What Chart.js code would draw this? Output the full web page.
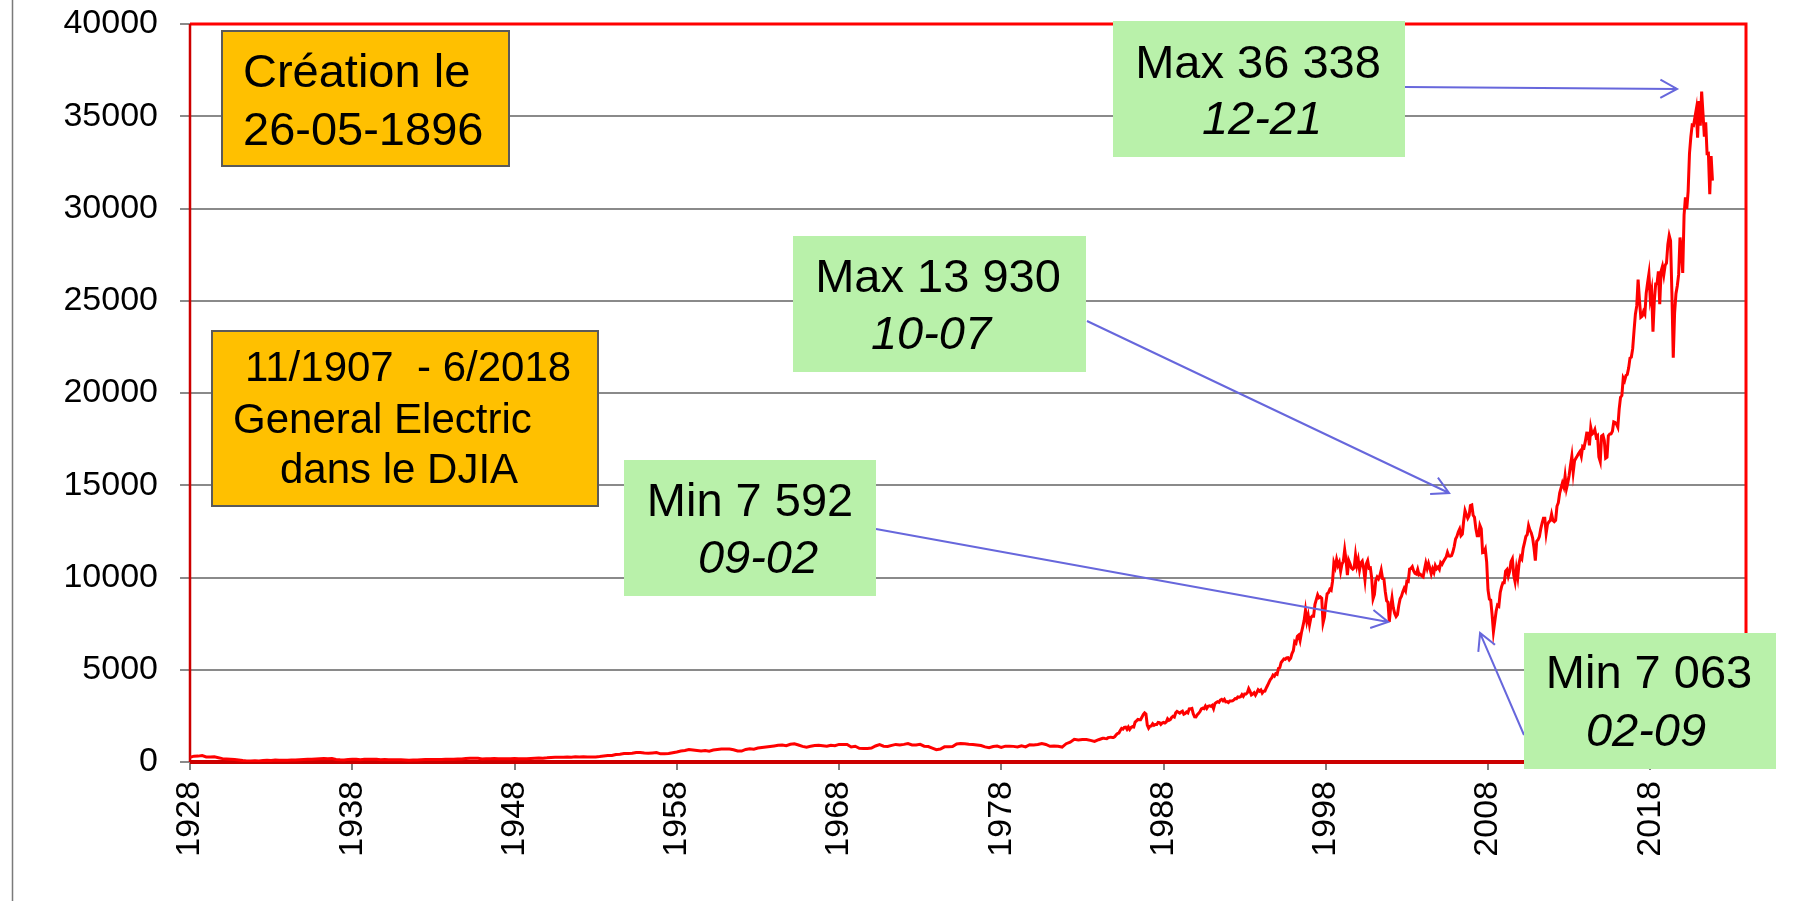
<!DOCTYPE html>
<html lang="fr">
<head>
<meta charset="utf-8">
<title>DJIA 1928 - 2022</title>
<script src="https://cdn.jsdelivr.net/npm/chart.js@4.4.1/dist/chart.umd.min.js"></script>
<style>
  html, body { margin: 0; padding: 0; background: #fff; overflow: hidden; }
  canvas { display: block; }
</style>
</head>
<body>
<canvas id="djiaChart" width="1812" height="901"></canvas>
<script>
// DJIA closes (the index has 30 stocks from Oct 1928)
// quarterly: Oct 1928, then Jan / Apr / Jul / Oct
const quarterly1928to1956 = [
  257,
  317, 319, 348, 273,   267, 279, 234, 183,   167, 151, 136, 105,   76, 56, 54, 61,
  60, 77, 90, 88,       108, 101, 89, 93,     102, 110, 126, 140,   149, 146, 163, 177,
  184, 174, 185, 138,   121, 111, 142, 151,   143, 128, 143, 151,   145, 149, 127, 134,
  125, 116, 128, 117,   109, 96, 106, 114,    126, 135, 138, 138,   138, 137, 146, 146,
  153, 165, 163, 186,   205, 206, 201, 169,   180, 170, 186, 181,   175, 180, 182, 188,
  179, 174, 175, 189,   201, 214, 209, 225,   249, 259, 257, 262,   271, 257, 280, 269,
  290, 275, 275, 276,   293, 319, 348, 352,   409, 425, 466, 455,   471, 516, 518, 486
];
const quarterly1957to1984 = [
  480, 494, 509, 441,   450, 456, 503, 543,   593, 624, 675, 647,   623, 601, 617, 580,
  648, 679, 705, 704,   700, 665, 597, 590,   683, 718, 695, 755,   785, 811, 841, 873,
  903, 922, 882, 961,   984, 921, 847, 807,   850, 897, 904, 880,   856, 912, 883, 952,
  946, 950, 816, 856,   744, 736, 734, 756,   869, 941, 858, 839,   902, 954, 925, 956,
  999, 922, 926, 957,   856, 837, 757, 666,   704, 821, 832, 836,   975, 997, 985, 965,
  954, 927, 891, 818,   770, 837, 862, 793,   860, 855, 847, 816,   876, 817, 935, 925,
  947, 998, 952, 853,   871, 848, 809, 992,   1076, 1226, 1199, 1225, 1221, 1171, 1115, 1207
];

// monthly closes, January to December
const monthly1985to1994 = [
  1287, 1284, 1267, 1258, 1315, 1335, 1347, 1334, 1329, 1374, 1472, 1547,
  1571, 1709, 1819, 1784, 1877, 1893, 1775, 1898, 1768, 1878, 1914, 1896,
  2158, 2224, 2305, 2286, 2292, 2419, 2572, 2663, 2596, 1994, 1834, 1939,
  1958, 2072, 1988, 2032, 2031, 2142, 2129, 2032, 2113, 2149, 2115, 2169,
  2342, 2258, 2294, 2419, 2480, 2440, 2661, 2737, 2693, 2645, 2706, 2753,
  2591, 2627, 2707, 2657, 2877, 2881, 2905, 2614, 2452, 2442, 2560, 2634,
  2736, 2882, 2914, 2888, 3028, 2907, 3025, 3044, 3017, 3069, 2895, 3169,
  3223, 3268, 3235, 3359, 3397, 3319, 3394, 3257, 3272, 3226, 3305, 3301,
  3310, 3371, 3435, 3428, 3527, 3516, 3539, 3651, 3555, 3681, 3684, 3754,
  3978, 3832, 3636, 3682, 3758, 3625, 3765, 3913, 3843, 3908, 3739, 3834
];
const monthly1995to2004 = [
  3844, 4011, 4158, 4321, 4465, 4556, 4708, 4648, 4789, 4755, 5074, 5117,
  5395, 5486, 5587, 5569, 5643, 5655, 5529, 5616, 5882, 6029, 6522, 6448,
  6813, 6878, 6583, 7009, 7331, 7673, 8223, 7622, 7945, 7442, 7823, 7908,
  7907, 8546, 8800, 9063, 8900, 8952, 8883, 7539, 7843, 8592, 9117, 9181,
  9359, 9307, 9786, 10789, 10560, 10971, 10655, 10829, 10337, 10730, 10878, 11497,
  10941, 10128, 10922, 10734, 10522, 10448, 10522, 11215, 10651, 10971, 10414, 10787,
  10887, 10495, 9879, 10735, 10912, 10502, 10523, 9950, 8848, 9075, 9852, 10022,
  9920, 10106, 10404, 9946, 9925, 9243, 8737, 8664, 7592, 8397, 8896, 8342,
  8054, 7891, 7992, 8480, 8850, 8985, 9234, 9416, 9275, 9801, 9782, 10454,
  10488, 10584, 10358, 10226, 10188, 10435, 10140, 10174, 10080, 10027, 10428, 10783
];
const monthly2005to2014 = [
  10490, 10766, 10504, 10193, 10467, 10275, 10641, 10482, 10569, 10440, 10806, 10718,
  10865, 10993, 11109, 11367, 11168, 11150, 11186, 11381, 11679, 12081, 12222, 12463,
  12622, 12269, 12354, 13063, 13628, 13409, 13212, 13358, 13896, 13930, 13372, 13265,
  12650, 12266, 12263, 12820, 12638, 11350, 11378, 11544, 10851, 9325, 8829, 8776,
  8001, 7063, 7609, 8168, 8500, 8447, 9172, 9496, 9712, 9713, 10345, 10428,
  10067, 10325, 10857, 11009, 10137, 9774, 10466, 10015, 10788, 11118, 11006, 11578,
  11892, 12226, 12320, 12811, 12570, 12414, 12143, 11614, 10913, 11955, 12046, 12218,
  12633, 12952, 13212, 13214, 12393, 12880, 13009, 13091, 13437, 13096, 13026, 13104,
  13861, 14054, 14579, 14840, 15116, 14910, 15500, 14810, 15130, 15546, 16086, 16577,
  15699, 16322, 16458, 16581, 16717, 16827, 16563, 17098, 17043, 17391, 17828, 17823
];
const monthly2015to2022 = [
  17165, 18133, 17776, 17841, 18011, 17620, 17690, 16528, 16285, 17664, 17720, 17425,
  16466, 16517, 17685, 17774, 17787, 17930, 18432, 18401, 18308, 18142, 19124, 19763,
  19864, 20812, 20663, 20941, 21009, 21350, 21891, 21948, 22405, 23377, 24272, 24719,
  26149, 25029, 24103, 24163, 24416, 24271, 25415, 25965, 26458, 25116, 25538, 23327,
  25000, 25916, 25929, 26593, 24815, 26600, 26864, 26403, 26917, 27046, 28051, 28538,
  28256, 25409, 21917, 24346, 25383, 25813, 26428, 28430, 27782, 26502, 29639, 30606,
  29983, 30932, 32982, 33875, 34529, 34503, 34935, 35361, 33844, 35820, 34484, 36338,
  35132, 33893, 34678, 32977, 32990, 30775, 32845, 31510
];

const xTickLabels = ['1928', '1938', '1948', '1958', '1968', '1978', '1988', '1998', '2008', '2018'];
const yTickLabels = ['0', '5000', '10000', '15000', '20000', '25000', '30000', '35000', '40000'];

// series pieces: [first date as decimal year, step in years, values]
const seriesParts = [
  [1928.75, 0.25, quarterly1928to1956],
  [1957, 0.25, quarterly1957to1984],
  [1985, 1 / 12, monthly1985to1994],
  [1995, 1 / 12, monthly1995to2004],
  [2005, 1 / 12, monthly2005to2014],
  [2015, 1 / 12, monthly2015to2022]
];
const djiaPoints = [];
seriesParts.forEach(([start, step, values]) => {
  values.forEach((v, i) => djiaPoints.push({ x: start + i * step, y: v }));
});

const FONT = "'Liberation Sans', Arial, sans-serif";
const ORANGE = '#ffc000';
const GREEN = '#b9f1aa';
const ARROW = '#6767dc';

// text boxes (canvas pixels)
const notes = [
  { x: 222, y: 31, w: 287, h: 135, fill: ORANGE, stroke: '#5a5a5a', size: 47, align: 'left',
    lines: [['Création le', 243, 87, false], ['26-05-1896', 243, 145, false]] },
  { x: 212, y: 331, w: 386, h: 175, fill: ORANGE, stroke: '#5a5a5a', size: 42, align: 'left',
    lines: [['11/1907  - 6/2018', 245, 381, false], ['General Electric', 233, 433, false], ['dans le DJIA', 280, 483, false]] },
  { x: 624, y: 460, w: 252, h: 136, fill: GREEN, size: 47, align: 'center',
    lines: [['Min 7 592', 750, 516, false], ['09-02', 758, 573, true]] },
  { x: 793, y: 236, w: 293, h: 136, fill: GREEN, size: 47, align: 'center',
    lines: [['Max 13 930', 938, 292, false], ['10-07', 931, 349, true]] },
  { x: 1113, y: 21, w: 292, h: 136, fill: GREEN, size: 47, align: 'center',
    lines: [['Max 36 338', 1258, 78, false], ['12-21', 1262, 134, true]] },
  { x: 1524, y: 633, w: 252, h: 136, fill: GREEN, size: 47, align: 'center',
    lines: [['Min 7 063', 1649, 688, false], ['02-09', 1646, 746, true]] }
];

// arrows: start in canvas pixels, tip in data units (year, value)
const arrows = [
  { from: [1405, 87], to: [2020.4, 36480] },
  { from: [1087, 321], to: [2006.35, 14580] },
  { from: [876, 529], to: [2002.6, 7590] },
  { from: [1524, 735], to: [2008.26, 6990] }
];

function drawArrow(ctx, x0, y0, x1, y1) {
  const a = Math.atan2(y1 - y0, x1 - x0);
  const len = 19, spread = 0.5;
  ctx.beginPath();
  ctx.moveTo(x0, y0);
  ctx.lineTo(x1, y1);
  ctx.moveTo(x1 - len * Math.cos(a - spread), y1 - len * Math.sin(a - spread));
  ctx.lineTo(x1, y1);
  ctx.lineTo(x1 - len * Math.cos(a + spread), y1 - len * Math.sin(a + spread));
  ctx.stroke();
}

const overlayPlugin = {
  id: 'overlay',
  beforeDraw(chart) {
    const ctx = chart.ctx;
    ctx.save();
    ctx.fillStyle = '#ffffff';
    ctx.fillRect(0, 0, chart.width, chart.height);
    // outer frame line on the left
    ctx.strokeStyle = '#7a7a7a';
    ctx.lineWidth = 1.5;
    ctx.beginPath();
    ctx.moveTo(12.5, 0);
    ctx.lineTo(12.5, chart.height);
    ctx.stroke();
    ctx.restore();
  },
  beforeDatasetsDraw(chart) {
    const { ctx, chartArea: a } = chart;
    ctx.save();
    ctx.strokeStyle = '#ff0000';
    ctx.lineWidth = 3;
    ctx.beginPath();
    ctx.moveTo(a.left, a.top);
    ctx.lineTo(a.right, a.top);
    ctx.lineTo(a.right, a.bottom);
    ctx.stroke();
    ctx.strokeStyle = '#cc0000';
    ctx.lineWidth = 2.5;
    ctx.beginPath();
    ctx.moveTo(a.left, a.top);
    ctx.lineTo(a.left, a.bottom);
    ctx.stroke();
    ctx.lineWidth = 4;
    ctx.beginPath();
    ctx.moveTo(a.left, a.bottom);
    ctx.lineTo(a.right, a.bottom);
    ctx.stroke();
    ctx.restore();
  },
  afterDatasetsDraw(chart) {
    const ctx = chart.ctx;
    const xs = chart.scales.x, ys = chart.scales.y;
    ctx.save();
    ctx.strokeStyle = ARROW;
    ctx.lineWidth = 2;
    arrows.forEach(ar => {
      drawArrow(ctx, ar.from[0], ar.from[1], xs.getPixelForValue(ar.to[0]), ys.getPixelForValue(ar.to[1]));
    });
    notes.forEach(n => {
      ctx.fillStyle = n.fill;
      ctx.fillRect(n.x, n.y, n.w, n.h);
      if (n.stroke) {
        ctx.strokeStyle = n.stroke;
        ctx.lineWidth = 2;
        ctx.strokeRect(n.x, n.y, n.w, n.h);
      }
      ctx.fillStyle = '#000000';
      ctx.textAlign = n.align;
      ctx.textBaseline = 'alphabetic';
      n.lines.forEach(([text, tx, ty, italic]) => {
        ctx.font = `${italic ? 'italic ' : ''}${n.size}px ${FONT}`;
        ctx.fillText(text, tx, ty);
      });
    });
    ctx.restore();
  }
};

new Chart(document.getElementById('djiaChart'), {
  type: 'line',
  data: {
    datasets: [{
      label: 'DJIA',
      data: djiaPoints,
      borderColor: '#ff0000',
      borderWidth: 3,
      pointRadius: 0,
      tension: 0,
      fill: false
    }]
  },
  options: {
    responsive: false,
    devicePixelRatio: 1,
    animation: false,
    events: [],
    layout: { padding: { top: 24, right: 66, bottom: 0, left: 0 } },
    plugins: { legend: { display: false }, tooltip: { enabled: false } },
    scales: {
      x: {
        type: 'linear',
        min: 1928.75,
        max: 2024.65,
        afterBuildTicks: scale => {
          // one tick every ten years, at October (start of the 30-stock index)
          scale.ticks = xTickLabels.map(l => ({ value: Number(l) + 0.75 }));
        },
        afterFit: scale => {
          scale.height = 139;
          scale.paddingLeft = 0;
          scale.paddingRight = 0;
        },
        border: { display: false },
        grid: { drawOnChartArea: false, drawTicks: true, tickLength: 8, color: '#808080', lineWidth: 2 },
        ticks: {
          autoSkip: false,
          minRotation: 90,
          maxRotation: 90,
          padding: 11,
          color: '#000000',
          font: { family: FONT, size: 34 },
          callback: (v, i) => xTickLabels[i]
        }
      },
      y: {
        min: 0,
        max: 40000,
        afterFit: scale => {
          scale.width = 190;
          scale.paddingTop = 0;
          scale.paddingBottom = 0;
        },
        border: { display: false },
        grid: { color: '#8a8a8a', lineWidth: 2, drawTicks: true, tickLength: 10 },
        ticks: {
          stepSize: 5000,
          padding: 22,
          color: '#000000',
          font: { family: FONT, size: 34 },
          callback: (v, i) => yTickLabels[i]
        }
      }
    }
  },
  plugins: [overlayPlugin]
});
</script>
</body>
</html>
